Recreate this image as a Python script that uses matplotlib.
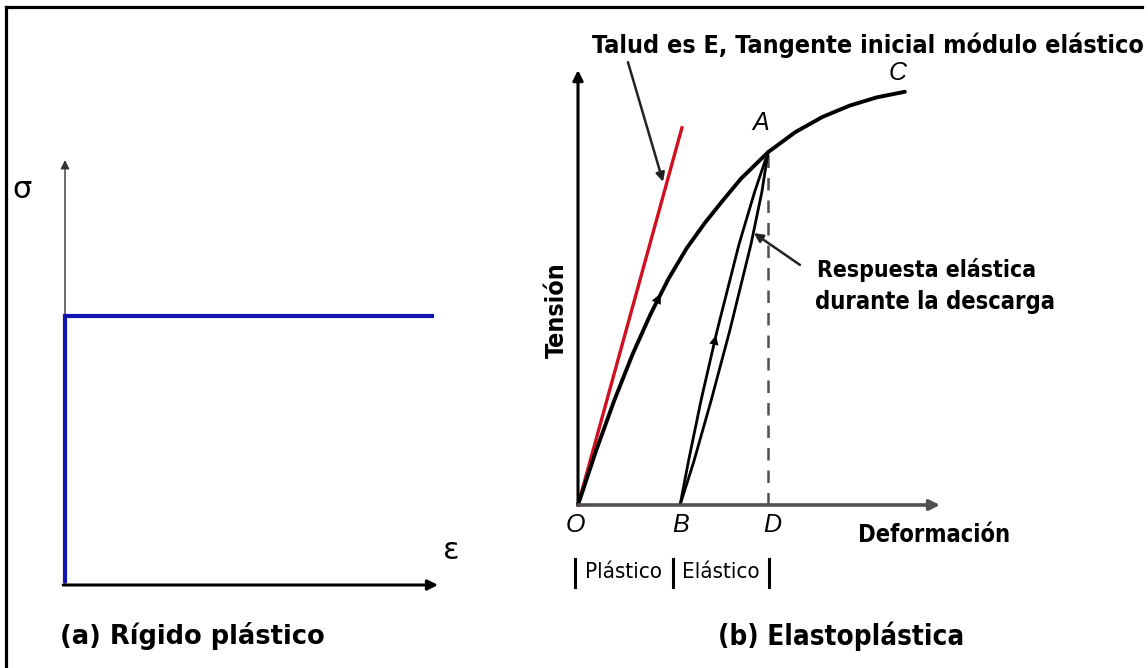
import matplotlib
matplotlib.use("Agg")
import matplotlib.pyplot as plt
from matplotlib.lines import Line2D

# --- (a) rigido plastico: deformacion / tension normalizadas
rig_x = [0.0, 0.0, 0.979]
rig_y = [0.01, 0.633, 0.633]

# --- (b) elastoplastica
curva_x = [0.0, 0.05, 0.10, 0.15, 0.20, 0.25, 0.30, 0.35, 0.40, 0.45,
           0.525, 0.60, 0.675, 0.75, 0.825, 0.903]
curva_y = [0.0, 0.125, 0.240, 0.345, 0.438, 0.520, 0.590, 0.648, 0.700,
           0.750, 0.811, 0.857, 0.892, 0.918, 0.937, 0.950]
tang_x = [0.0, 0.287]      # tangente inicial (modulo E)
tang_y = [0.0, 0.867]
recarga_x = [0.282, 0.305, 0.340, 0.384, 0.445, 0.488, 0.525]
recarga_y = [0.0, 0.10, 0.241, 0.40, 0.60, 0.72, 0.811]
descarga_x = [0.525, 0.508, 0.478, 0.419, 0.368, 0.320, 0.282]
descarga_y = [0.811, 0.72, 0.60, 0.40, 0.241, 0.10, 0.0]
punto_A = (0.525, 0.811)
punto_B = 0.282
barras_x = [-0.008, 0.262, 0.528]

azul = '#1414b0'
rojo = '#d0101e'
gris = '#505050'
narrow = ['Liberation Sans Narrow', 'DejaVu Sans']

fig = plt.figure(figsize=(11.48, 6.68), dpi=100)
W, H = 1148.0, 668.0

# borde (solo arriba e izquierda)
fig.add_artist(Line2D([6/W, 1142/W], [1-7/H, 1-7/H], color='k', lw=2.3))
fig.add_artist(Line2D([6/W, 6/W], [0, 1-7/H], color='k', lw=2.3))

# ---------------- panel (a)
ax1 = fig.add_axes([65/W, (H-585)/H, 375/W, 425/H])
ax1.set_xlim(0, 1)
ax1.set_ylim(0, 1)
ax1.axis('off')
ax1.annotate('', xy=(0, 1.0), xytext=(0, 0),
             arrowprops=dict(arrowstyle='-|>', color='#333333', lw=1.0,
                             mutation_scale=13, shrinkA=0, shrinkB=0))
ax1.annotate('', xy=(0.995, 0), xytext=(-0.005, 0),
             arrowprops=dict(arrowstyle='-|>', color='k', lw=2.2,
                             mutation_scale=15, shrinkA=0, shrinkB=0))
ax1.plot(rig_x, rig_y, color=azul, lw=3, solid_joinstyle='miter', zorder=5,
         clip_on=False)
ax1.text(-0.115, 0.93, 'σ', fontsize=22, ha='center', va='center',
         family='DejaVu Sans', clip_on=False)
ax1.text(1.03, 0.082, 'ε', fontsize=22, ha='center', va='center',
         family='DejaVu Sans', clip_on=False)
ax1.text(-0.013, -0.12, '(a) Rígido plástico', fontsize=18.5, weight='bold',
         family='DejaVu Sans', ha='left', va='center', clip_on=False)

# ---------------- panel (b)
ax2 = fig.add_axes([578/W, (H-505)/H, 362/W, 435/H])
ax2.set_xlim(0, 1)
ax2.set_ylim(0, 1)
ax2.axis('off')
ax2.annotate('', xy=(0, 1.0), xytext=(0, 0),
             arrowprops=dict(arrowstyle='-|>', color='k', lw=2.2,
                             mutation_scale=15, shrinkA=0, shrinkB=0))
ax2.annotate('', xy=(1.0, 0), xytext=(0, 0),
             arrowprops=dict(arrowstyle='-|>', color=gris, lw=2.6,
                             mutation_scale=15, shrinkA=0, shrinkB=0))

ax2.plot([punto_A[0], punto_A[0]], [0, punto_A[1]], color=gris, lw=1.8,
         dashes=(5, 4))
ax2.plot(tang_x, tang_y, color=rojo, lw=2.4, clip_on=False)
ax2.plot(curva_x, curva_y, color='k', lw=2.8, solid_capstyle='round',
         solid_joinstyle='round', clip_on=False)
ax2.plot(recarga_x, recarga_y, color='k', lw=2.0, solid_joinstyle='round')
ax2.plot(descarga_x, descarga_y, color='k', lw=2.0, solid_joinstyle='round')

# flechas sobre las curvas
ax2.annotate('', xy=(0.228, 0.486), xytext=(0.15, 0.345),
             arrowprops=dict(arrowstyle='-|>', color='k', lw=0,
                             mutation_scale=18, shrinkA=0, shrinkB=0))
ax2.annotate('', xy=(0.381, 0.39), xytext=(0.340, 0.241),
             arrowprops=dict(arrowstyle='-|>', color='k', lw=0,
                             mutation_scale=17, shrinkA=0, shrinkB=0))

# indicadores de texto
ax2.annotate('', xy=(0.235, 0.743), xytext=(0.138, 1.018),
             arrowprops=dict(arrowstyle='-|>', color='#222222', lw=1.8,
                             mutation_scale=13, shrinkA=0, shrinkB=0))
ax2.annotate('', xy=(0.486, 0.625), xytext=(0.613, 0.552),
             arrowprops=dict(arrowstyle='-|>', color='#222222', lw=1.8,
                             mutation_scale=13, shrinkA=0, shrinkB=0))

ax2.text(0.039, 1.057, 'Talud es E, Tangente inicial módulo elástico',
         fontsize=18, weight='bold', family=narrow, fontstretch='condensed',
         ha='left', va='center', clip_on=False)
ax2.text(0.964, 0.540, 'Respuesta elástica', fontsize=16.5, weight='bold',
         family=narrow, fontstretch='condensed', ha='center', va='center')
ax2.text(0.985, 0.467, 'durante la descarga', fontsize=17, weight='bold',
         family=narrow, fontstretch='condensed', ha='center', va='center',
         clip_on=False)
ax2.text(-0.058, 0.448, 'Tensión', fontsize=18, weight='bold', family=narrow,
         fontstretch='condensed', rotation=90, ha='center', va='center',
         clip_on=False)
ax2.text(0.983, -0.069, 'Deformación', fontsize=17, weight='bold',
         family=narrow, fontstretch='condensed', ha='center', va='center',
         clip_on=False)

for lx, ly, lab in [(-0.008, -0.046, 'O'), (punto_B, -0.046, 'B'),
                    (0.536, -0.046, 'D'), (0.503, 0.878, 'A'),
                    (0.884, 0.993, 'C')]:
    ax2.text(lx, ly, lab, fontsize=18, style='italic',
             family='Liberation Sans', ha='center', va='center',
             clip_on=False)

for bx in barras_x:
    ax2.plot([bx, bx], [-0.124, -0.188], color='k', lw=2.2, clip_on=False)
ax2.text(0.127, -0.154, 'Plástico', fontsize=16, family=narrow,
         fontstretch='condensed', ha='center', va='center', clip_on=False)
ax2.text(0.395, -0.154, 'Elástico', fontsize=16, family=narrow,
         fontstretch='condensed', ha='center', va='center', clip_on=False)

ax2.text(0.727, -0.301, '(b) Elastoplástica', fontsize=20, weight='bold',
         family=narrow, fontstretch='condensed', ha='center', va='center',
         clip_on=False)

fig.savefig('out.png', dpi=100, facecolor='white')
